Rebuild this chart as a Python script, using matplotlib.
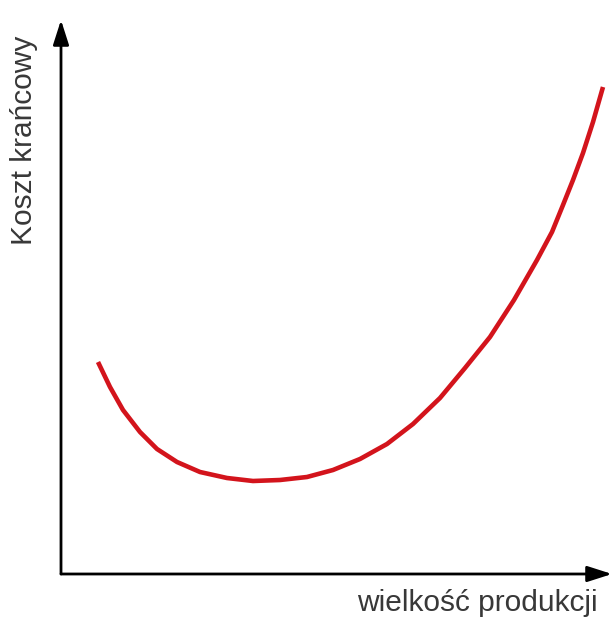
import matplotlib
matplotlib.use("Agg")
import matplotlib.pyplot as plt
from matplotlib.patches import FancyArrowPatch

# Data (arbitrary units)
produkcja = [37, 49, 62, 79, 96, 116, 139, 166, 192, 219, 246, 272, 299, 326, 352,
             379, 404, 429, 453, 476, 491, 502, 512, 522, 532, 542]
koszt = [212, 187, 164, 142, 125, 112, 102, 96, 93, 94, 97, 104, 115, 130, 150,
         176, 206, 237, 274, 314, 342, 369, 394, 421, 452, 487]

x_label = "wielkość produkcji"
y_label = "Koszt krańcowy"

plt.rcParams['font.family'] = ['Liberation Sans', 'DejaVu Sans']

W, H = 612, 620
fig = plt.figure(figsize=(W / 100, H / 100), dpi=100)
ax = fig.add_axes([61 / W, (H - 574) / H, 551 / W, 554 / H])
ax.set_xlim(0, 551)
ax.set_ylim(0, 554)
ax.axis('off')

ax.plot(produkcja, koszt, color='#d3141c', lw=3.3, solid_capstyle='butt',
        solid_joinstyle='round')

for start, end in [((0, 0), (0, 1)), ((0, 0), (1, 0))]:
    arr = FancyArrowPatch(start, end, transform=ax.transAxes,
                          arrowstyle='-|>,head_length=15,head_width=4.8',
                          mutation_scale=1, lw=2.0, color='black',
                          shrinkA=0, shrinkB=0, clip_on=False)
    ax.add_patch(arr)

fig.text(24 / W, 1 - 140 / H, y_label, rotation=90, ha='center', va='center',
         fontsize=21.5, color='#383838')
fig.text(477.5 / W, 1 - 603 / H, x_label, ha='center', va='center',
         fontsize=21.5, color='#383838')

fig.savefig('out.png', dpi=100, facecolor='white')
